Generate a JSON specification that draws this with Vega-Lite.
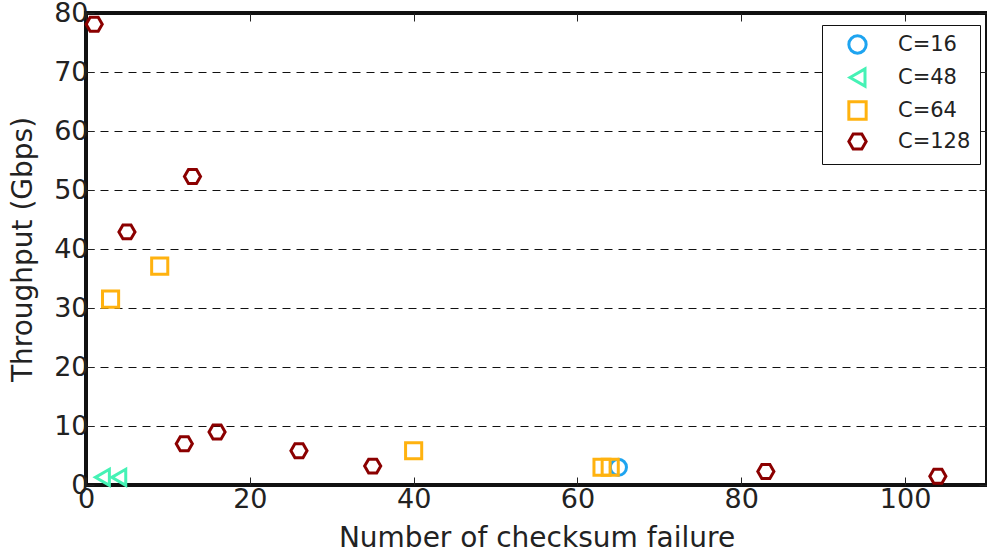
{
  "$schema": "https://vega.github.io/schema/vega-lite/v6.json",
  "autosize": {"type": "none"},
  "padding": {"left": 86, "top": 13, "right": 0, "bottom": 74},
  "width": 901,
  "height": 472,
  "background": "white",
  "config": {
    "font": "DejaVu Sans",
    "view": {"stroke": "#111111", "strokeWidth": 4},
    "axis": {"labelFont": "DejaVu Sans", "titleFont": "DejaVu Sans", "labelColor": "#222222", "titleColor": "#222222", "titleFontWeight": "normal"}
  },
  "data": {"values": [
    {"series": "C=16", "failures": 65, "throughput": 3.0},
    {"series": "C=48", "failures": 2, "throughput": 1.3},
    {"series": "C=48", "failures": 4, "throughput": 1.3},
    {"series": "C=64", "failures": 3, "throughput": 31.5},
    {"series": "C=64", "failures": 9, "throughput": 37.1},
    {"series": "C=64", "failures": 40, "throughput": 5.8},
    {"series": "C=64", "failures": 63, "throughput": 3.0},
    {"series": "C=64", "failures": 64, "throughput": 3.0},
    {"series": "C=128", "failures": 1, "throughput": 78.1},
    {"series": "C=128", "failures": 13, "throughput": 52.3},
    {"series": "C=128", "failures": 5, "throughput": 42.9},
    {"series": "C=128", "failures": 12, "throughput": 7.0},
    {"series": "C=128", "failures": 16, "throughput": 9.0},
    {"series": "C=128", "failures": 26, "throughput": 5.8},
    {"series": "C=128", "failures": 35, "throughput": 3.2},
    {"series": "C=128", "failures": 83, "throughput": 2.3},
    {"series": "C=128", "failures": 104, "throughput": 1.5}
  ]},
  "layer": [
    {
      "mark": {"type": "point", "filled": false, "strokeWidth": 3, "size": 260, "opacity": 1},
      "encoding": {
        "x": {"field": "failures", "type": "quantitative",
          "scale": {"domain": [0, 110], "nice": false, "zero": false},
          "axis": {"orient": "bottom", "title": "Number of checksum failure", "values": [0, 20, 40, 60, 80, 100], "tickSize": -8, "tickColor": "#222222", "tickWidth": 1, "labelPadding": 9, "labelFontSize": 27, "titleFontSize": 28, "titlePadding": 12, "domain": false, "grid": false, "labelFlush": false}},
        "y": {"field": "throughput", "type": "quantitative",
          "scale": {"domain": [0, 80], "nice": false},
          "axis": {"orient": "left", "title": "Throughput (Gbps)", "values": [0, 10, 20, 30, 40, 50, 60, 70, 80], "tickSize": -8, "tickColor": "#222222", "tickWidth": 1, "labelPadding": 6, "labelFontSize": 27, "titleFontSize": 28, "titlePadding": 16, "domain": false, "grid": true, "gridDash": [8, 6], "gridColor": "#111111", "gridWidth": 1, "gridOpacity": 1, "labelFlush": false}},
        "color": {"field": "series", "type": "nominal",
          "scale": {"domain": ["C=16", "C=48", "C=64", "C=128"], "range": ["#1EA4F0", "#45F2B5", "#FFB20F", "#8B0000"]},
          "legend": {"orient": "none", "legendX": 736, "legendY": 12, "title": null, "labelFontSize": 21, "labelColor": "#222222", "symbolStrokeWidth": 3, "symbolSize": 300, "symbolFillColor": "transparent", "rowPadding": 2, "padding": 9, "strokeColor": "#111111", "fillColor": "white", "labelOffset": 30, "symbolOffset": 16, "labelLimit": 200}},
        "shape": {"field": "series", "type": "nominal",
          "scale": {"domain": ["C=16", "C=48", "C=64", "C=128"], "range": ["circle", "triangle-left", "square", "M-1,0L-0.5,-0.866L0.5,-0.866L1,0L0.5,0.866L-0.5,0.866Z"]},
          "legend": null}
      }
    },
    {
      "mark": {"type": "rule", "opacity": 0},
      "encoding": {
        "x": {"field": "failures", "type": "quantitative",
          "axis": {"orient": "top", "title": null, "labels": false, "values": [0, 20, 40, 60, 80, 100], "tickSize": -8, "tickColor": "#222222", "domain": false, "grid": false}},
        "y": {"field": "throughput", "type": "quantitative",
          "axis": {"orient": "right", "title": null, "labels": false, "values": [0, 10, 20, 30, 40, 50, 60, 70, 80], "tickSize": -8, "tickColor": "#222222", "domain": false, "grid": false}}
      }
    }
  ],
  "resolve": {"axis": {"x": "independent", "y": "independent"}}
}
